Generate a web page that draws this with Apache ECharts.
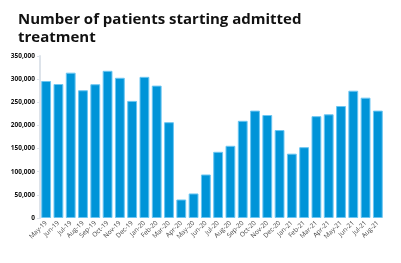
<!DOCTYPE html>
<html><head><meta charset="utf-8">
<script src="https://cdn.jsdelivr.net/npm/echarts@6/dist/echarts.min.js"></script>
<style>html,body{margin:0;padding:0;background:#fff}#c{width:401px;height:263px}</style>
</head><body><div id="c"></div>
<script>
const titleText = "Number of patients starting admitted\ntreatment";
const categories = ["May-19","Jun-19","Jul-19","Aug-19","Sep-19","Oct-19","Nov-19","Dec-19","Jan-20","Feb-20","Mar-20","Apr-20","May-20","Jun-20","Jul-20","Aug-20","Sep-20","Oct-20","Nov-20","Dec-20","Jan-21","Feb-21","Mar-21","Apr-21","May-21","Jun-21","Jul-21","Aug-21"];
const patients = [296000,289500,314000,276000,289000,318000,303000,253000,305000,286000,207000,40000,53000,94000,143000,156000,210000,232000,222500,190000,139000,153000,220000,224000,242000,275000,260000,232000];
const yMax = 350000, yInterval = 50000;

const chart = echarts.init(document.getElementById('c'), null, {renderer:'canvas'});
chart.setOption({
  animation:false,
  title:{text:titleText,left:13,top:6,textStyle:{fontFamily:"Open Sans",fontWeight:'bold',fontSize:15,lineHeight:18,color:'#111'}},
  grid:{left:40,right:17,top:56,bottom:45},
  xAxis:{type:'category',data:categories,
    axisLine:{show:false},axisTick:{show:false},
    axisLabel:{rotate:45,interval:0,fontSize:6.5,color:'#444',fontFamily:"Open Sans",margin:4}},
  yAxis:{type:'value',min:0,max:yMax,interval:yInterval,
    axisLine:{show:true,lineStyle:{color:'#dde3ea',width:2}},
    axisTick:{show:true,length:3,lineStyle:{color:'#dde3ea'}},
    splitLine:{show:false},
    axisLabel:{fontSize:6.5,fontWeight:'bold',color:'#111',fontFamily:"Open Sans",margin:5,
      formatter:v=>v.toLocaleString('en-US')}},
  series:[{type:'bar',data:patients,barCategoryGap:'20%',
    itemStyle:{color:'#0094d8',borderColor:'#6cc6f2',borderWidth:1}}]
});
</script></body></html>
